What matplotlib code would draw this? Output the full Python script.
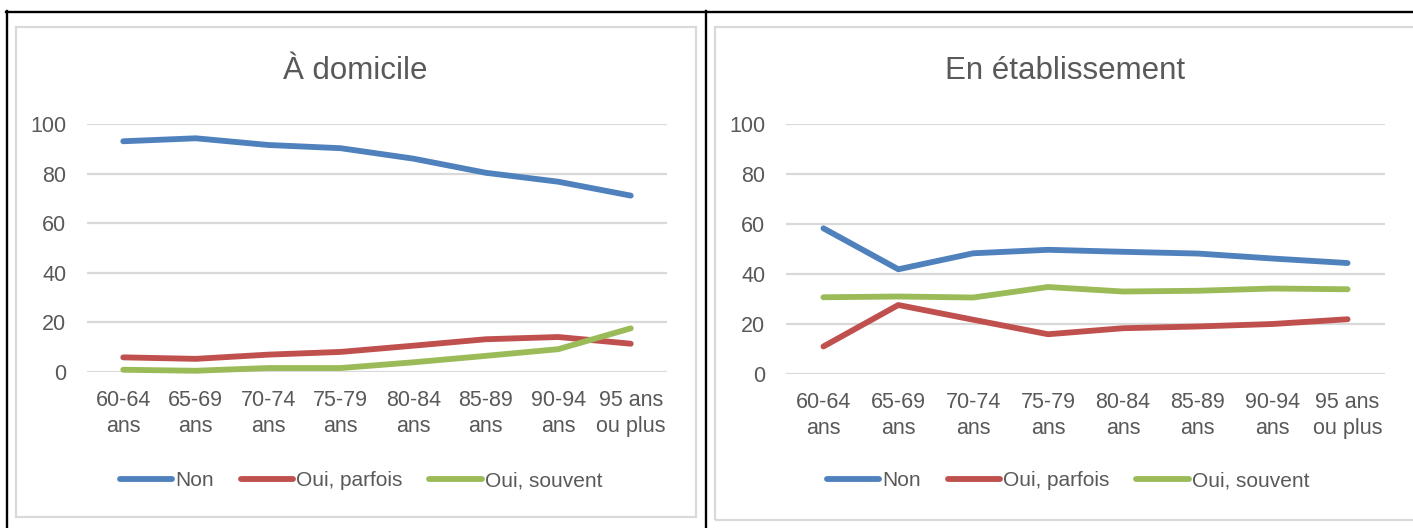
import matplotlib
matplotlib.use("Agg")
import matplotlib.pyplot as plt
from matplotlib.lines import Line2D
from matplotlib.patches import Rectangle

plt.rcParams['font.family'] = ['Liberation Sans', 'DejaVu Sans']

# data
ages = ["60-64\nans", "65-69\nans", "70-74\nans", "75-79\nans",
        "80-84\nans", "85-89\nans", "90-94\nans", "95 ans\nou plus"]
series_names = ["Non", "Oui, parfois", "Oui, souvent"]

dom_non = [93.0, 94.2, 91.5, 90.2, 86.0, 80.3, 76.7, 71.1]
dom_parfois = [5.9, 5.3, 7.0, 8.1, 10.6, 13.2, 14.1, 11.4]
dom_souvent = [0.9, 0.5, 1.6, 1.6, 3.9, 6.5, 9.2, 17.6]

etab_non = [58.2, 41.8, 48.2, 49.6, 48.8, 48.1, 46.1, 44.3]
etab_parfois = [10.9, 27.5, 21.6, 15.8, 18.2, 18.9, 19.9, 21.8]
etab_souvent = [30.6, 30.9, 30.5, 34.7, 32.9, 33.2, 34.1, 33.8]

colors = ["#4F81BD", "#C0504D", "#9BBB59"]
txt = "#595959"
grid = "#D9D9D9"

W, H = 1413, 528
fig = plt.figure(figsize=(W / 100, H / 100), dpi=100)


def rect(l, t, r, b):
    return [l / W, 1 - b / H, (r - l) / W, (b - t) / H]


def panel(box, title, tcx, values, leg_cx):
    ax = fig.add_axes(rect(*box))
    x = range(len(ages))
    for v, c, n in zip(values, colors, series_names):
        ax.plot(x, v, color=c, lw=4.2, label=n, clip_on=False,
                solid_capstyle='round', solid_joinstyle='round')
    ax.set_xlim(-0.5, len(ages) - 0.5)
    ax.set_ylim(0, 100)
    ax.set_yticks([0, 20, 40, 60, 80, 100])
    ax.set_xticks(list(x))
    ax.set_xticklabels(ages, linespacing=1.3)
    ax.yaxis.grid(True, color=grid, lw=1.6)
    ax.set_axisbelow(True)
    for s in ax.spines.values():
        s.set_visible(False)
    ax.tick_params(length=0, labelsize=15.5, colors=txt)
    ax.tick_params(axis='y', pad=15)
    ax.tick_params(axis='x', pad=13)
    fig.text(tcx / W, 1 - 71 / H, title, ha='center', va='center', fontsize=22.5, color=txt)
    leg = fig.legend(*ax.get_legend_handles_labels(), loc='center',
                     bbox_to_anchor=(leg_cx / W, 1 - 481 / H), ncol=3, frameon=False,
                     fontsize=15, handlelength=2.5, handletextpad=0.15, columnspacing=1.3)
    for t in leg.get_texts():
        t.set_color(txt)
    return ax


panel((87, 123.9, 667, 372), "À domicile", 355.5,
      [dom_non, dom_parfois, dom_souvent], 361)
panel((786, 123.9, 1385, 373.7), "En établissement", 1065,
      [etab_non, etab_parfois, etab_souvent], 1068)

# chart borders
for l, t, r, b in [(15.7, 26.7, 696, 517), (715, 26.7, 1418, 520)]:
    fig.add_artist(Rectangle((l / W, 1 - b / H), (r - l) / W, (b - t) / H,
                             transform=fig.transFigure, fill=False, ec=grid, lw=1.6))

# table lines
for xs, ys in [((6, W), (11.7, 11.7)), ((6.5, 6.5), (11, H)), ((705.7, 705.7), (11, H))]:
    fig.add_artist(Line2D([v / W for v in xs], [1 - v / H for v in ys],
                          transform=fig.transFigure, color="black", lw=1.7))

fig.savefig("out.png", dpi=100, facecolor="white")
